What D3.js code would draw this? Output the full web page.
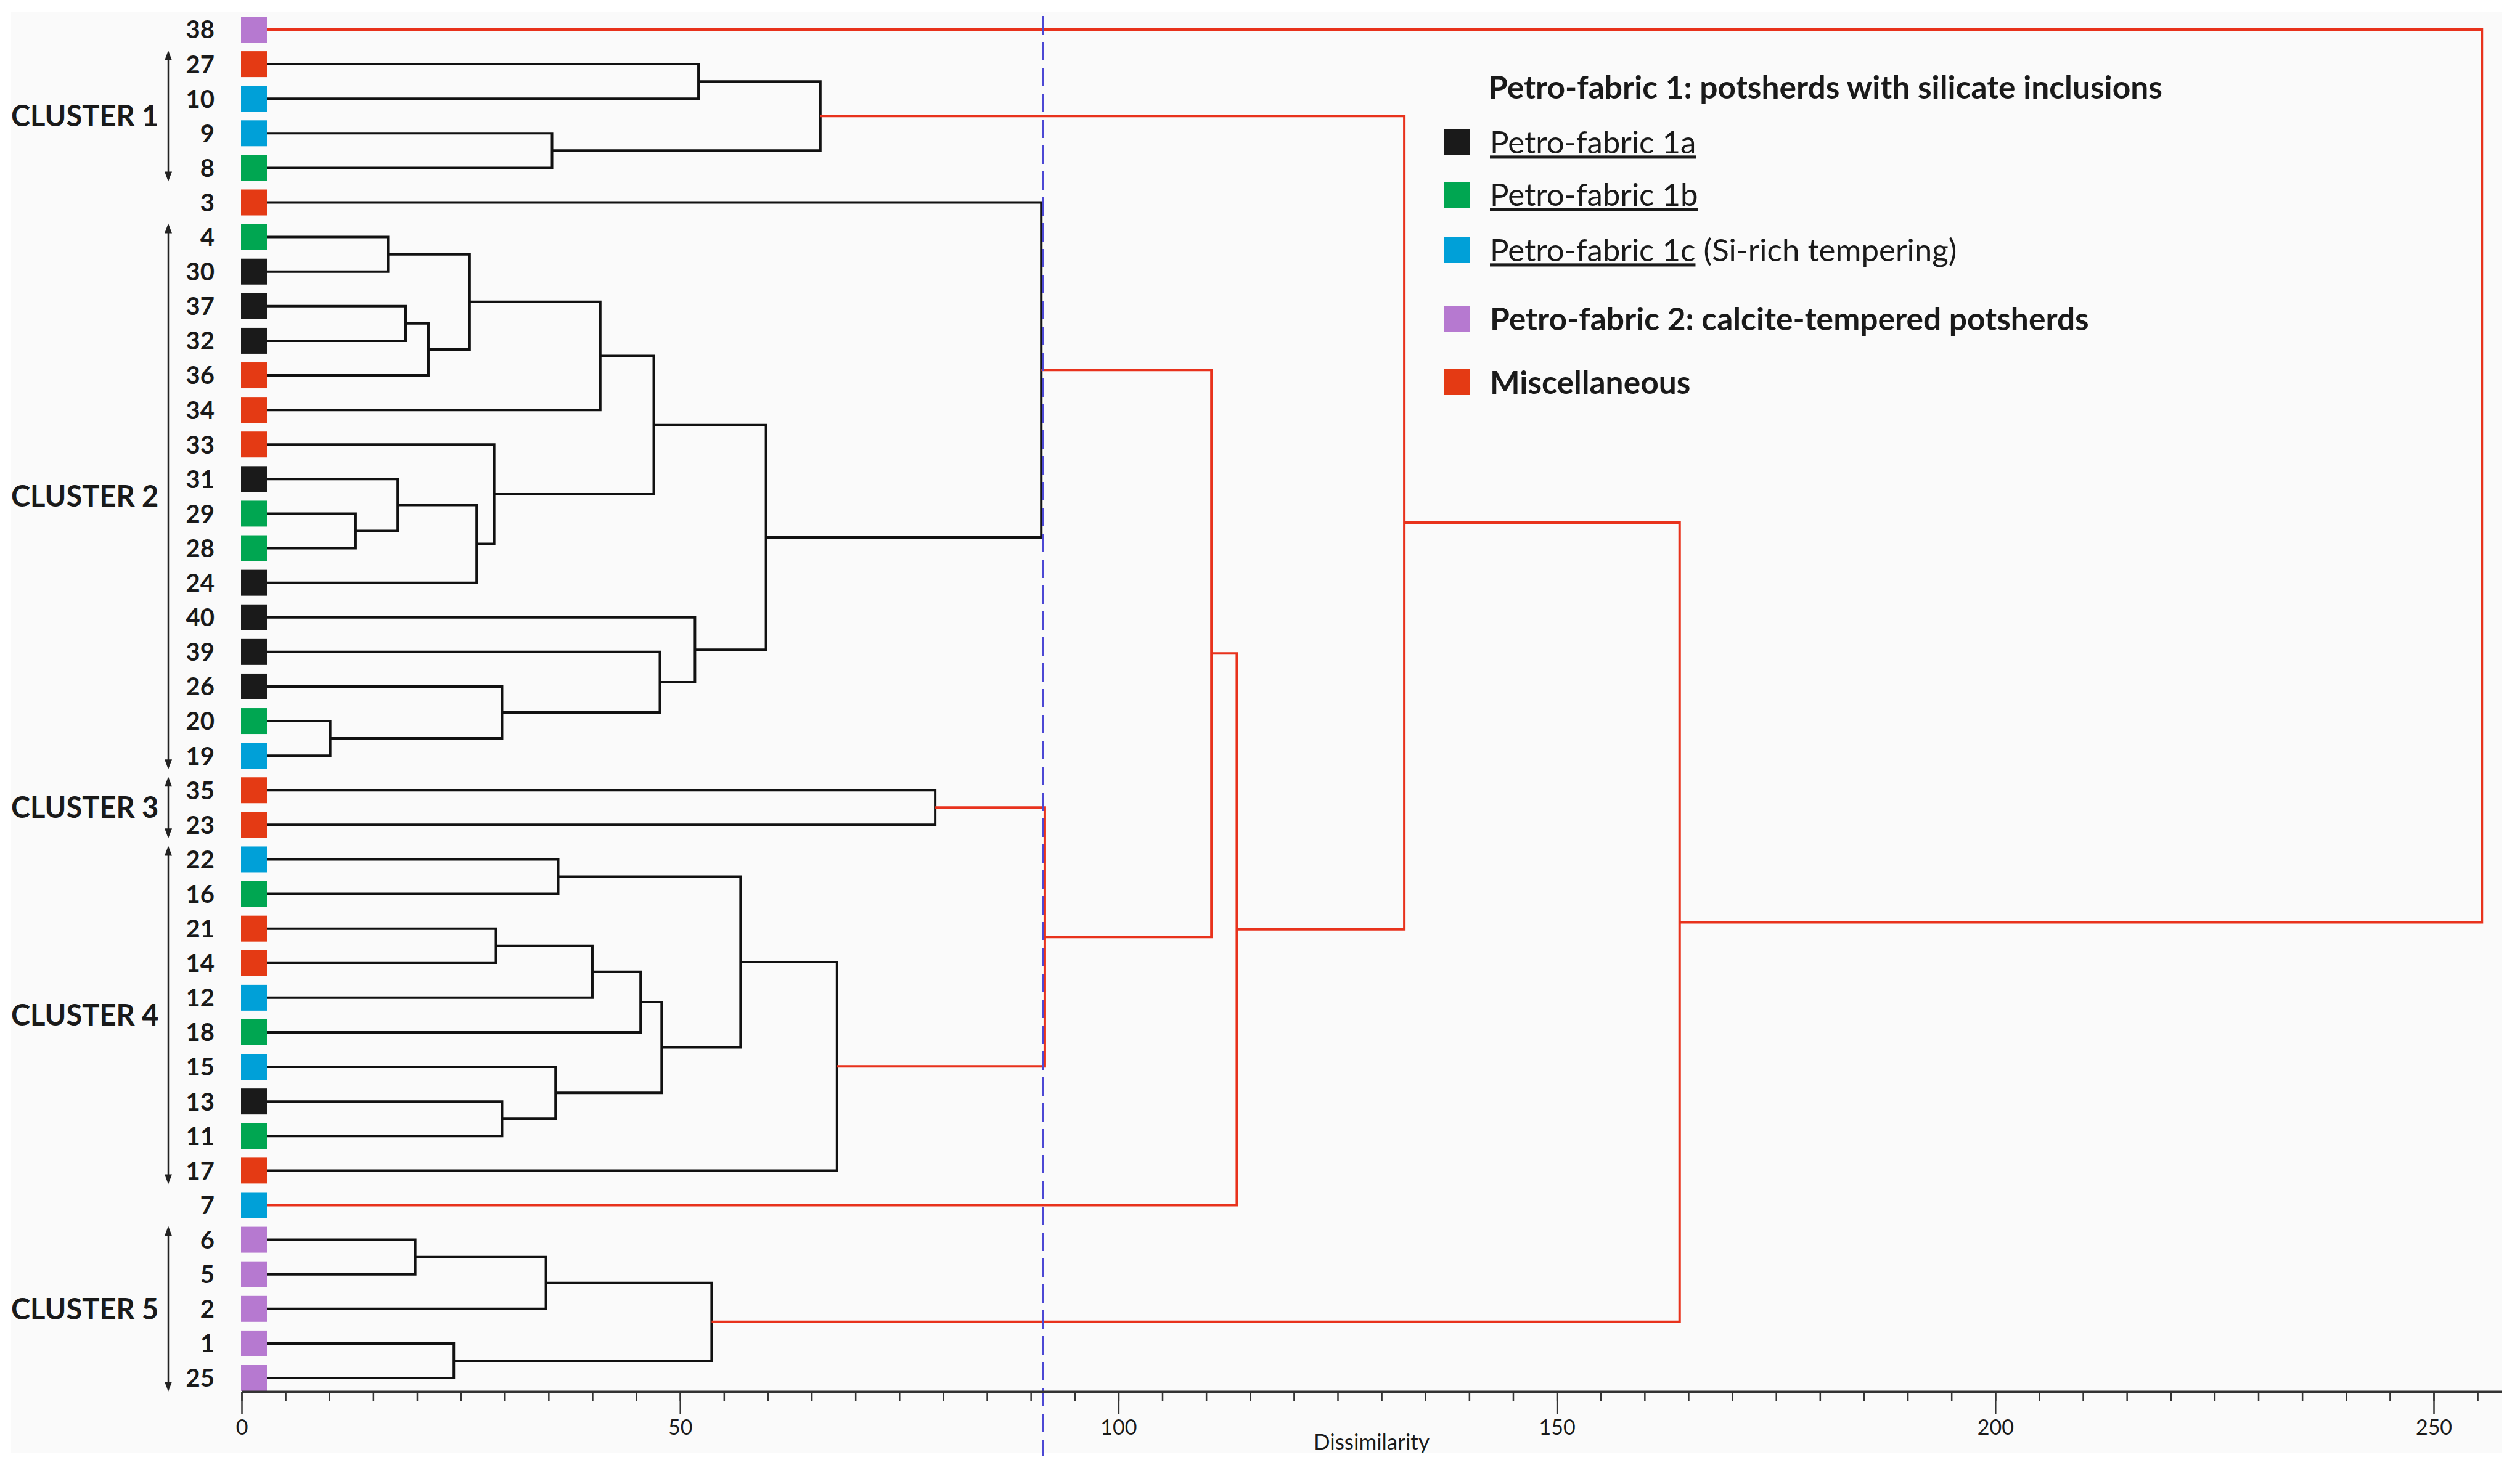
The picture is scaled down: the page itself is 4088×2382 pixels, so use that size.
<!DOCTYPE html>
<html>
<head>
<meta charset="utf-8">
<script src="https://cdn.jsdelivr.net/npm/d3@7"></script>
<style>
  body { margin: 0; background: #ffffff; }
  svg text { font-family: Lato, "Open Sans", sans-serif; fill: #1a1a1a; }
</style>
</head>
<body>
<div id="chart"></div>
<script>
// leaves, top to bottom
const leaves = ["38","27","10","9","8","3","4","30","37","32","36","34","33","31","29","28","24",
                "40","39","26","20","19","35","23","22","16","21","14","12","18","15","13","11","17",
                "7","6","5","2","1","25"];
const leafFabric = ["2","M","1c","1c","1b","M","1b","1a","1a","1a","M","M","M","1a","1b","1b","1a",
                    "1a","1a","1a","1b","1c","M","M","1c","1b","M","M","1c","1b","1c","1a","1b","M",
                    "1c","2","2","2","2","2"];

// merges: [left, right, dissimilarity]; "mN" points at merge N
const merges = [
  ["27","10",52.1], ["9","8",35.4], ["m0","m1",66.0],
  ["4","30",16.7], ["37","32",18.7], ["m4","36",21.3], ["m3","m5",26.0], ["m6","34",40.9],
  ["29","28",13.0], ["31","m8",17.8], ["m9","24",26.8], ["33","m10",28.8], ["m7","m11",47.0],
  ["20","19",10.1], ["26","m13",29.7], ["39","m14",47.7], ["40","m15",51.7], ["m12","m16",59.8],
  ["3","m17",91.2],
  ["35","23",79.1],
  ["22","16",36.1], ["21","14",29.0], ["m21","12",40.0], ["m22","18",45.5], ["13","11",29.7],
  ["15","m24",35.8], ["m23","m25",47.9], ["m20","m26",56.9], ["m27","17",67.9],
  ["m19","m28",91.6], ["m18","m29",110.6], ["m30","7",113.5], ["m2","m31",132.6],
  ["6","5",19.8], ["m33","2",34.7], ["1","25",24.2], ["m34","m35",53.6],
  ["m32","m36",164.0], ["38","m37",255.5]
];
const cutLevel = 91.4;

const clusterNames = ["CLUSTER 1","CLUSTER 2","CLUSTER 3","CLUSTER 4","CLUSTER 5"];
const clusterFirst = ["27","4","35","22","6"];
const clusterLast  = ["8","19","23","17","25"];

const fabricCodes  = ["1a","1b","1c","2","M"];
const fabricColors = ["#1a1a1a","#00a651","#00a0d8","#b679d0","#e43a14"];

const majorTicks = [0,50,100,150,200,250];
const minorTicks = d3.range(0, 256, 5);

const legendTitle = "Petro-fabric 1: potsherds with silicate inclusions";
const legendLabels = ["Petro-fabric 1a","Petro-fabric 1b","Petro-fabric 1c",
                      "Petro-fabric 2: calcite-tempered potsherds","Miscellaneous"];
const legendNotes = ["",""," (Si-rich tempering)","",""];
const legendBold = [false,false,false,true,true];
const legendUnderline = [true,true,true,false,false];

const w = 4088, h = 2382;
const axis_y = 2258;
const svg = d3.select('#chart').append('svg').attr('width', w).attr('height', h);

svg.append('rect').attr('x',18).attr('y',20).attr('width',4040).attr('height',2338).attr('fill','#fafafa');

const xScale = d3.scaleLinear().domain([0,250]).range([392,3948]);
const yScale = d3.scalePoint().domain(leaves).range([48,2236]);
const color = d3.scaleOrdinal().domain(fabricCodes).range(fabricColors);

// node positions
const pos = {};
leaves.forEach(l => pos[l] = {x: xScale(0), y: yScale(l)});
merges.forEach((m,i) => {
  const a = pos[m[0]], b = pos[m[1]];
  pos['m'+i] = {x: xScale(m[2]), y: (a.y+b.y)/2};
});

//links
svg.append('g').selectAll('path')
  .data(merges)
  .enter()
  .append('path')
  .attr('d', (m,i) => {
    const a = pos[m[0]], b = pos[m[1]], n = pos['m'+i];
    return 'M'+a.x+','+a.y+'H'+n.x+'V'+b.y+'H'+b.x;
  })
  .attr('fill','none')
  .attr('stroke', m => m[2] > cutLevel ? '#e8321c' : '#111111')
  .attr('stroke-width',4)
  .attr('stroke-linejoin','miter');

//cut line
svg.append('line')
  .attr('x1', xScale(cutLevel)).attr('x2', xScale(cutLevel))
  .attr('y1', 26).attr('y2', 2362)
  .attr('stroke','#4c48d4').attr('stroke-width',3)
  .attr('stroke-dasharray','30,12');

//leaf squares
svg.append('g').selectAll('rect')
  .data(leaves)
  .enter()
  .append('rect')
  .attr('x', xScale(0)-1)
  .attr('y', d => yScale(d)-21)
  .attr('width',42).attr('height',42)
  .attr('fill', (d,i) => color(leafFabric[i]));

//leaf labels
svg.append('g').selectAll('text')
  .data(leaves)
  .enter()
  .append('text')
  .attr('x',348)
  .attr('y', d => yScale(d))
  .attr('dy','0.36em')
  .attr('text-anchor','end')
  .attr('font-size',40)
  .attr('font-weight','bold')
  .text(d => d);

//cluster labels + arrows
const arrow_x = 273;
clusterNames.forEach((name,i) => {
  const y1 = yScale(clusterFirst[i]) - 22, y2 = yScale(clusterLast[i]) + 22;
  svg.append('line').attr('x1',arrow_x).attr('x2',arrow_x)
    .attr('y1',y1+10).attr('y2',y2-10)
    .attr('stroke','#222').attr('stroke-width',2.5);
  svg.append('path').attr('d','M'+arrow_x+','+y1+'l-6,16h12z').attr('fill','#222');
  svg.append('path').attr('d','M'+arrow_x+','+y2+'l-6,-16h12z').attr('fill','#222');
  svg.append('text')
    .attr('x',18)
    .attr('y',(y1+y2)/2)
    .attr('dy','0.36em')
    .attr('font-size',47)
    .attr('font-weight','bold')
    .text(name);
});

//x-axis
const axisScale = d3.scaleLinear().domain([0, xScale.invert(4058)]).range([xScale(0),4058]);
const minorAxis = svg.append('g')
  .attr('transform','translate(0,'+axis_y+')')
  .call(d3.axisBottom(axisScale).tickValues(minorTicks).tickSize(16).tickSizeOuter(0).tickFormat(''));
minorAxis.select('.domain').attr('stroke','#333').attr('stroke-width',4);
minorAxis.selectAll('.tick line').attr('stroke','#333').attr('stroke-width',2.5);

const majorAxis = svg.append('g')
  .attr('transform','translate(0,'+axis_y+')')
  .call(d3.axisBottom(axisScale).tickValues(majorTicks).tickSize(36).tickPadding(10).tickFormat(d3.format('d')));
majorAxis.select('.domain').remove();
majorAxis.selectAll('.tick line').attr('stroke','#333').attr('stroke-width',2.5);
majorAxis.selectAll('.tick text')
  .attr('font-size',34)
  .attr('fill','#1a1a1a')
  .style('font-family','Lato, sans-serif');

//x-label
svg.append('text')
  .text('Dissimilarity')
  .attr('x',2225)
  .attr('y',2352)
  .attr('text-anchor','middle')
  .attr('font-size',35);

//legend
svg.append('text')
  .attr('x',2414).attr('y',141).attr('dy','0.36em')
  .attr('font-size',51.5).attr('font-weight','bold')
  .text(legendTitle);
const legend_y = [231,316,406,517,620];
legendLabels.forEach((lab,i) => {
  svg.append('rect').attr('x',2343).attr('y',legend_y[i]-21).attr('width',41).attr('height',42)
    .attr('fill',fabricColors[i]);
  const t = svg.append('text')
    .attr('x',2417).attr('y',legend_y[i]).attr('dy','0.36em')
    .attr('font-size', legendBold[i] ? 51.5 : 51)
    .attr('font-weight', legendBold[i] ? 'bold' : 'normal');
  t.append('tspan').text(lab).style('text-decoration', legendUnderline[i] ? 'underline' : 'none');
  if (legendNotes[i]) t.append('tspan').text(legendNotes[i]);
});
</script>
</body>
</html>
